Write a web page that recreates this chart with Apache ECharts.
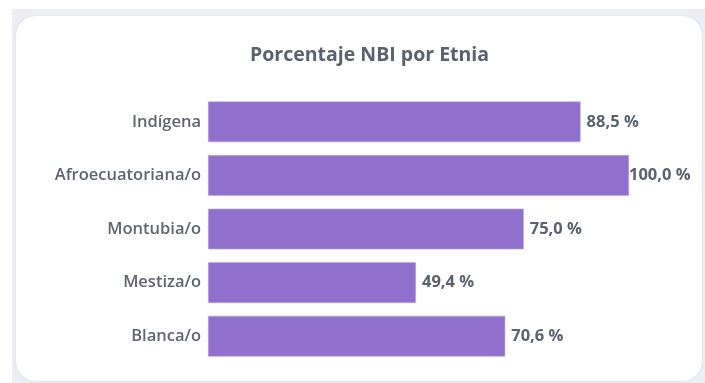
<!DOCTYPE html>
<html>
<head>
<meta charset="utf-8">
<script src="https://cdn.jsdelivr.net/npm/echarts@6/dist/echarts.min.js"></script>
<style>
  html, body { margin: 0; padding: 0; width: 705px; height: 383px; background: #ffffff; overflow: hidden; }
  #panel { position: absolute; left: 12px; top: 9px; right: 0; bottom: 0; background: #eceef4; }
  #card { position: absolute; left: 16px; top: 16px; width: 686px; height: 365px; background: #ffffff;
          border-radius: 20px; box-shadow: 0 0 2px rgba(120,130,160,0.25); }
  #chart { position: absolute; left: 0; top: 0; width: 705px; height: 383px; }
</style>
</head>
<body>
<div id="panel"></div>
<div id="card"></div>
<div id="chart"></div>
<script>
// Porcentaje de hogares con NBI por autoidentificación étnica
const categories = ['Indígena', 'Afroecuatoriana/o', 'Montubia/o', 'Mestiza/o', 'Blanca/o'];
const values = [88.5, 100.0, 75.0, 49.4, 70.6];

const fmt = v => v.toFixed(1).replace('.', ',') + ' %';

const chart = echarts.init(document.getElementById('chart'), null, { renderer: 'canvas' });
chart.setOption({
  backgroundColor: 'transparent',
  animation: false,
  title: {
    text: 'Porcentaje NBI por Etnia',
    left: 245,
    top: 40,
    textStyle: { fontFamily: 'Open Sans', fontWeight: 'bold', fontSize: 19.5, color: '#5a6270' }
  },
  grid: { left: 208, right: 76, top: 95, bottom: 20, containLabel: false },
  xAxis: { type: 'value', min: 0, max: 100, show: false },
  yAxis: {
    type: 'category',
    data: categories,
    inverse: true,
    axisLine: { show: false },
    axisTick: { show: false },
    axisLabel: {
      margin: 7,
      fontFamily: 'Open Sans', fontWeight: 600, fontSize: 16.5, color: '#5f6672'
    }
  },
  series: [{
    type: 'bar',
    barWidth: '76%',
    data: values.map((v, i) => i === 1 ? { value: v, label: { distance: 0 } } : v),
    itemStyle: { color: '#9070cc', borderColor: '#b9a6e3', borderWidth: 0.6 },
    label: {
      show: true,
      position: 'right',
      distance: 6,
      formatter: p => fmt(p.value),
      fontFamily: 'Open Sans', fontWeight: 'bold', fontSize: 16.5, color: '#5a6270'
    }
  }]
});
</script>
</body>
</html>
